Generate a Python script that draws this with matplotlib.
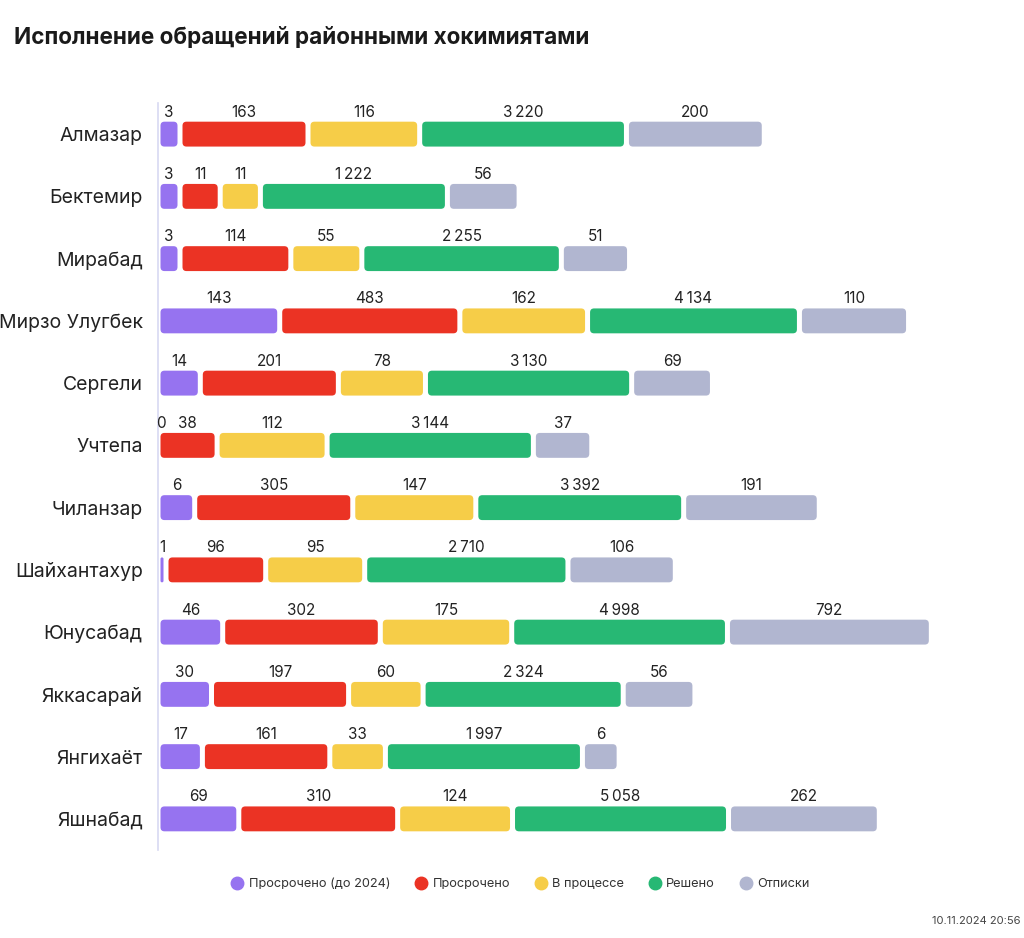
import numpy as np
import matplotlib
matplotlib.use('Agg')
import matplotlib.pyplot as plt
from matplotlib.patches import FancyBboxPatch
from matplotlib.lines import Line2D

plt.rcParams['font.family'] = ['Inter', 'DejaVu Sans']

districts = ['Алмазар', 'Бектемир', 'Мирабад', 'Мирзо Улугбек', 'Сергели', 'Учтепа',
             'Чиланзар', 'Шайхантахур', 'Юнусабад', 'Яккасарай', 'Янгихаёт', 'Яшнабад']
overdue_old = [3, 3, 3, 143, 14, 0, 6, 1, 46, 30, 17, 69]
overdue = [163, 11, 114, 483, 201, 38, 305, 96, 302, 197, 161, 310]
in_progress = [116, 11, 55, 162, 78, 112, 147, 95, 175, 60, 33, 124]
solved = [3220, 1222, 2255, 4134, 3130, 3144, 3392, 2710, 4998, 2324, 1997, 5058]
formal = [200, 56, 51, 110, 69, 37, 191, 106, 792, 56, 6, 262]

series_names = ['Просрочено (до 2024)', 'Просрочено', 'В процессе', 'Решено', 'Отписки']
series_values = [overdue_old, overdue, in_progress, solved, formal]
colors = ['#9673F0', '#EB3324', '#F6CD48', '#27B874', '#B1B6D0']

GAP = 5  # px between segments


def compressed_len(v, name):
    # исходный дашборд рисует сегменты в сжатой (не линейной) шкале
    v = np.asarray(v, dtype=float)
    if name == 'Решено':
        return np.where(v > 0, 20.4 * np.log(np.maximum(v, 1)) + 37, 0)
    small = np.minimum(7 * v - 4, 27.5 + 0.7 * v)
    big = 48 * np.log(np.maximum(v, 1)) - 121.5
    out = np.where(v < 100, small, big)
    return np.where(v > 0, np.maximum(out, 0), 0)


def fmt(v):
    return f'{v:,}'.replace(',', '\u2009')


fig = plt.figure(figsize=(10.24, 9.38), dpi=100)
ax = fig.add_axes([158 / 1024, 88 / 938, 862 / 1024, 747 / 938])

y = np.arange(len(districts))
left = np.zeros(len(districts))
bar_h = 0.4
row_px = 747 / 12

for name, vals, col in zip(series_names, series_values, colors):
    w = compressed_len(vals, name)
    bars = ax.barh(y, w, left=left, height=bar_h, color=col)
    for rect, v in zip(bars, vals):
        x0, y0 = rect.get_x(), rect.get_y()
        rw, rh = rect.get_width(), rect.get_height()
        rect.set_visible(False)
        if rw > 0:
            ax.add_patch(FancyBboxPatch((x0, y0), rw, rh,
                                        boxstyle='round,pad=0,rounding_size=%.2f' % min(4, rw / 2),
                                        mutation_aspect=1 / row_px,
                                        facecolor=col, edgecolor='none'))
        ax.annotate(fmt(v), xy=(x0 + rw / 2, y0), xytext=(0, 1.5),
                    textcoords='offset points', ha='center', va='bottom',
                    fontsize=11, color='#222222')
    left = left + np.where(w > 0, w + GAP, 0)

ax.set_xlim(-2.5, 859.5)
ax.set_ylim(11.5, -0.5)
ax.set_yticks(y)
ax.set_yticklabels(districts, fontsize=14, color='#222222')
ax.tick_params(axis='y', length=0, pad=11)
ax.set_xticks([])
for s in ['top', 'right', 'bottom']:
    ax.spines[s].set_visible(False)
ax.spines['left'].set_color('#D8D9F2')
ax.spines['left'].set_linewidth(1.2)

fig.text(14 / 1024, 1 - 38 / 938, 'Исполнение обращений районными хокимиятами',
         fontsize=16.2, fontweight='bold', color='#1a1a1a', va='center', ha='left')

handles = [Line2D([], [], marker='o', linestyle='none', markersize=9,
                  markerfacecolor=c, markeredgecolor=c) for c in colors]
fig.legend(handles, series_names, loc='center', bbox_to_anchor=(521 / 1024, 1 - 884 / 938),
           ncol=5, frameon=False, fontsize=9.2, handlelength=0.8, handletextpad=0.5,
           columnspacing=2.0, labelcolor='#333333')

fig.text(1021 / 1024, 1 - 921 / 938, '10.11.2024 20:56', fontsize=8, color='#444444',
         ha='right', va='center')

fig.savefig('out.png', dpi=100, facecolor='white')
